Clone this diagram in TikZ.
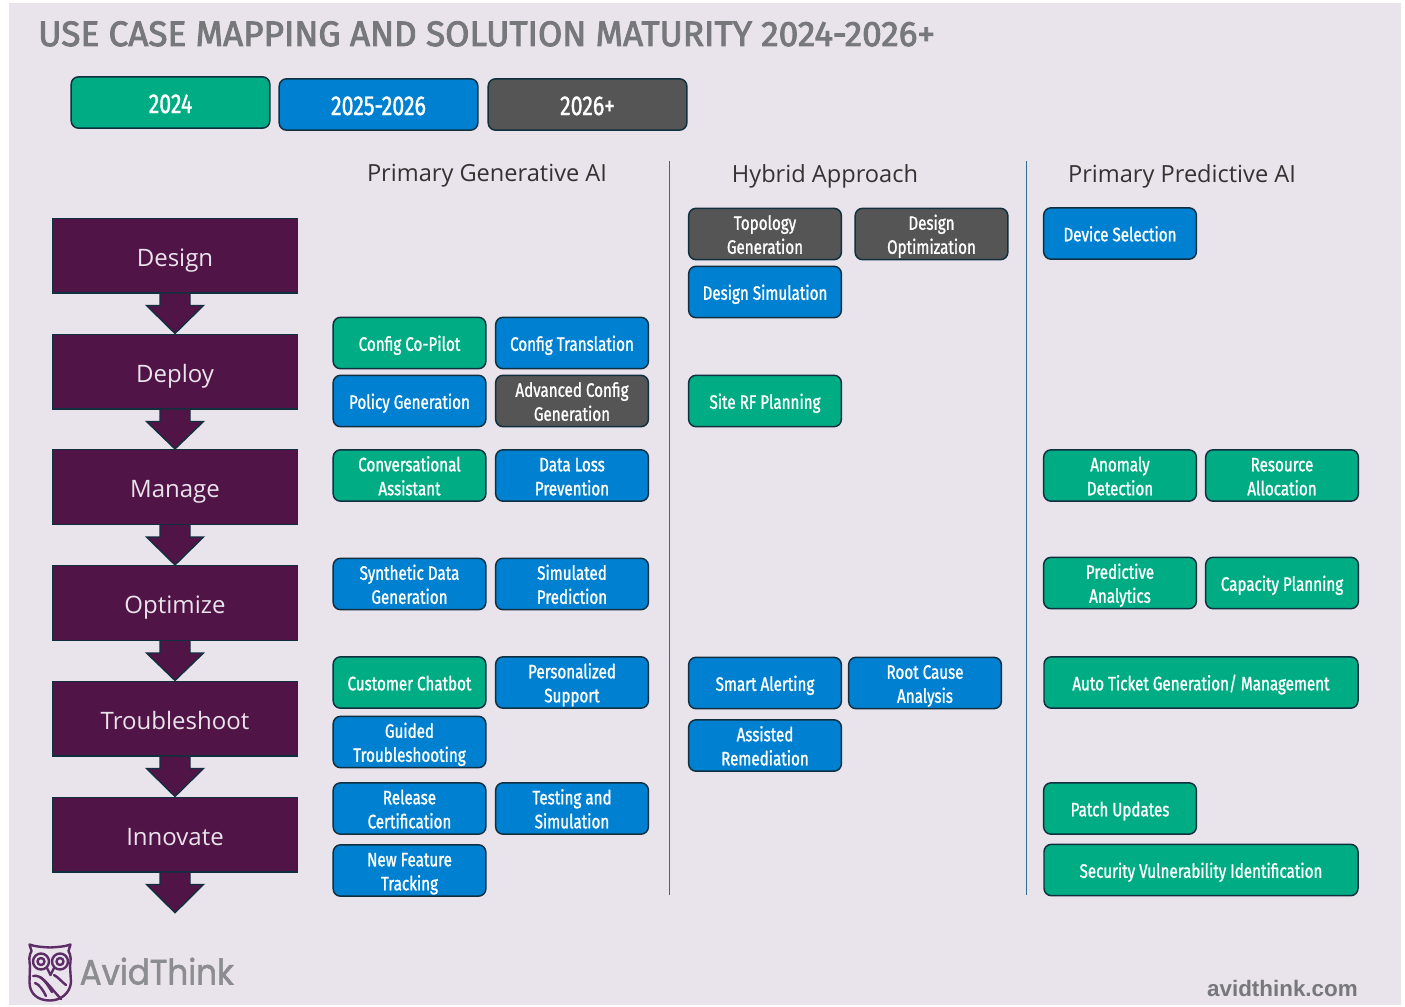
\documentclass[tikz,border=0pt]{standalone}
\usepackage{fontspec}
\usetikzlibrary{calc}
\setmainfont{Fira Sans}
\newfontfamily\boxfont[FakeStretch=0.78,FakeBold=1.2]{Fira Sans}
\newfontfamily\titlefont[FakeStretch=0.995,FakeBold=2.5]{Fira Sans}
\newfontfamily\headfont{Open Sans}
\newfontfamily\wordfont[FakeStretch=0.92,FakeBold=1.5]{Poppins}
\newfontfamily\urlfont{Liberation Sans}
\definecolor{bgc}{HTML}{E9E3EB}
\definecolor{gr}{HTML}{00AC84}
\definecolor{bl}{HTML}{0080D0}
\definecolor{dk}{HTML}{555555}
\definecolor{edgec}{HTML}{10303F}
\definecolor{stagec}{HTML}{501446}
\definecolor{titlec}{HTML}{77787C}
\definecolor{sepc}{HTML}{2F6C8F}
\definecolor{owlc}{HTML}{5C2D66}
\definecolor{wordc}{HTML}{8C8D90}
\newcommand{\tx}[1]{\raisebox{-5.85pt}[0pt][0pt]{\begin{tabular}{@{}c@{}}#1\end{tabular}}}
\newcommand{\st}[1]{\raisebox{-7.9pt}[0pt][0pt]{#1}}
\tikzset{
 x=0.75pt,y=-0.75pt,
 ucase/.style={draw=edgec,line width=1.1pt,rounded corners=5.5pt,text=white,align=center,inner sep=0pt,
   font=\boxfont\fontsize{14.6}{18}\selectfont,minimum height=38.5pt},
 one/.style={ucase,minimum width=114.5pt},
 wide/.style={ucase,minimum width=235.5pt},
 green/.style={fill=gr},blue/.style={fill=bl},gray/.style={fill=dk},
 legend/.style={ucase,minimum width=149pt,font=\boxfont\fontsize{20.5}{22}\selectfont},
 stage/.style={draw=edgec,fill=stagec,line width=1pt,minimum width=184pt,minimum height=56pt,inner sep=0pt,
   text=bgc,font=\headfont\fontsize{18}{20}\selectfont},
 stagearrow/.style={draw=edgec,fill=stagec,line width=1pt,line join=miter},
 colhead/.style={font=\headfont\fontsize{17.7}{20}\selectfont,text=black!80,inner sep=0pt},
 sep/.style={draw=sepc,line width=1pt},
 owl/.style={draw=owlc,line width=1.8pt,line join=round,line cap=round},
}
\begin{document}
\begin{tikzpicture}
\useasboundingbox (0,0) rectangle (1405,1006);
\fill[bgc] (9,3) rectangle (1401,1005);
\node[anchor=base west,inner sep=0pt,text=titlec,font=\titlefont\fontsize{26.5}{30}\selectfont] (title) at (38,46) {USE CASE MAPPING AND SOLUTION MATURITY 2024-2026+};
% legend
\node[legend,fill=gr] (l24) at (170.5,102.5) {\st{2024}};
\node[legend,fill=bl] (l25) at (378.5,104.5) {\st{2025-2026}};
\node[legend,fill=dk] (l26) at (587.5,104.5) {\st{2026+}};
% column headers
\node[colhead] (h1) at (487,176) {Primary Generative AI};
\node[colhead] (h2) at (825,176) {Hybrid Approach};
\node[colhead] (h3) at (1182,176) {Primary Predictive AI};
\coordinate (s1a) at (669.5,161); \coordinate (s1b) at (669.5,895);
\coordinate (s2a) at (1026.5,161); \coordinate (s2b) at (1026.5,895);
\draw[sep] (s1a) -- (s1b);
\draw[sep] (s2a) -- (s2b);
% stages
\node[stage] (design) at (175,255.5) {\st{Design}};
\node[stage] (deploy) at (175,371.5) {\st{Deploy}};
\node[stage] (manage) at (175,487) {\st{Manage}};
\node[stage] (optimize) at (175,603) {\st{Optimize}};
\node[stage] (trouble) at (175,718.5) {\st{Troubleshoot}};
\node[stage] (innovate) at (175,834.5) {\st{Innovate}};
\node[inner sep=0pt,minimum size=0pt] (endtip) at (175,913) {};
\foreach \a/\b in {design/deploy,deploy/manage,manage/optimize,optimize/trouble,trouble/innovate,innovate/endtip}{
 \draw[stagearrow] ($(\a.south)+(-15,0)$) -- ++(0,12) -- ++(-13.5,0) -- (\b.north) -- ($(\a.south)+(28.5,12)$) -- ++(-13.5,0) -- ++(0,-12);
}
% Primary Generative AI
\node[one,green] (a1) at (409.5,343) {\tx{Config Co-Pilot}};
\node[one,blue] (a2) at (572,343) {\tx{Config Translation}};
\node[one,blue] (a3) at (409.5,401) {\tx{Policy Generation}};
\node[one,gray] (a4) at (572,401) {\tx{Advanced Config\\Generation}};
\node[one,green] (a5) at (409.5,475.5) {\tx{Conversational\\Assistant}};
\node[one,blue] (a6) at (572,475.5) {\tx{Data Loss\\Prevention}};
\node[one,blue] (a7) at (409.5,584) {\tx{Synthetic Data\\Generation}};
\node[one,blue] (a8) at (572,584) {\tx{Simulated\\Prediction}};
\node[one,green] (a9) at (409.5,682.5) {\tx{Customer Chatbot}};
\node[one,blue] (a10) at (572,682.5) {\tx{Personalized\\Support}};
\node[one,blue] (a11) at (409.5,742) {\tx{Guided\\Troubleshooting}};
\node[one,blue] (a12) at (409.5,808.5) {\tx{Release\\Certification}};
\node[one,blue] (a13) at (572,808.5) {\tx{Testing and\\Simulation}};
\node[one,blue] (a14) at (409.5,870.5) {\tx{New Feature\\Tracking}};
% Hybrid
\node[one,gray] (b1) at (765,234) {\tx{Topology\\Generation}};
\node[one,gray] (b2) at (931.5,234) {\tx{Design\\Optimization}};
\node[one,blue] (b3) at (765,292) {\tx{Design Simulation}};
\node[one,green] (b4) at (765,401) {\tx{Site RF Planning}};
\node[one,blue] (b5) at (765,683) {\tx{Smart Alerting}};
\node[one,blue] (b6) at (925,683) {\tx{Root Cause\\Analysis}};
\node[one,blue] (b7) at (765,745.5) {\tx{Assisted\\Remediation}};
% Predictive
\node[one,blue] (c1) at (1120,233.5) {\tx{Device Selection}};
\node[one,green] (c2) at (1120,475.5) {\tx{Anomaly\\Detection}};
\node[one,green] (c3) at (1282,475.5) {\tx{Resource\\Allocation}};
\node[one,green] (c4) at (1120,583) {\tx{Predictive\\Analytics}};
\node[one,green] (c5) at (1282,583) {\tx{Capacity Planning}};
\node[wide,green] (c6) at (1201,682.5) {\tx{Auto Ticket Generation/ Management}};
\node[one,green] (c7) at (1120,808.5) {\tx{Patch Updates}};
\node[wide,green] (c8) at (1201,870) {\tx{Security Vulnerability Identification}};
% logo
\draw[owl] (29.5,944.5) .. controls (36,947) and (44,947) .. (50,947.5) .. controls (56,947) and (64,947) .. (70.5,944.5)
  -- (68.5,951) .. controls (71,955) and (71,960) .. (70,966) -- (71,982) .. controls (70,994) and (60,1000.5) .. (50,1000.5)
  .. controls (38,1000.5) and (29.5,994) .. (29.5,982) -- (30,966) .. controls (29,960) and (29,955) .. (31.5,951) -- cycle;
\draw[owl] (41,961.5) circle[radius=8];
\draw[owl] (60,961.5) circle[radius=8];
\draw[owl] (41,961.5) circle[radius=3.5];
\draw[owl] (60,961.5) circle[radius=3.5];
\draw[owl] (47,968) -- (50.5,975) -- (54,968);
\draw[owl] (33,976) .. controls (42,974) and (48,985) .. (61,999);
\draw[owl] (35,983) .. controls (39,984) and (43,990) .. (46,996);
\draw[owl] (40,977) .. controls (45,980) and (49,987) .. (52,992);
\draw[owl] (54,975) .. controls (58,977) and (62,982) .. (66,985);
\node[anchor=base west,inner sep=0pt,text=wordc,font=\wordfont\fontsize{26.5}{30}\selectfont] (word) at (79.5,984.5) {AvidThink};
\node[anchor=base east,inner sep=0pt,text=titlec,font=\urlfont\fontsize{16.8}{20}\selectfont\bfseries] (url) at (1358,996) {avidthink.com};
\end{tikzpicture}
\end{document}
